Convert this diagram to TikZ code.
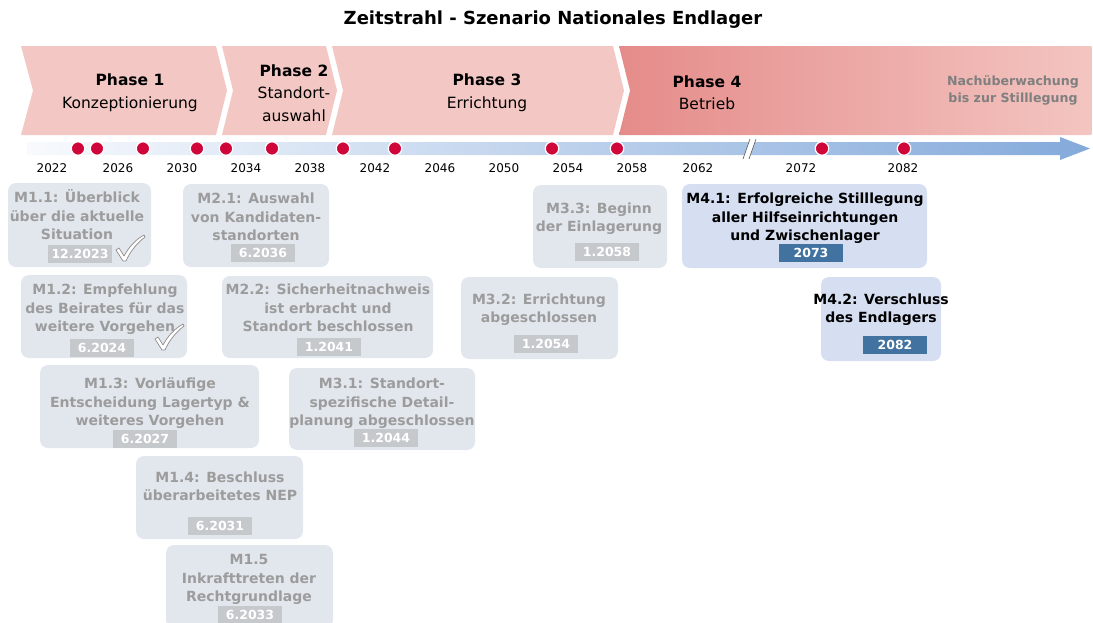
\documentclass[tikz,border=0pt]{standalone}
\usepackage{fontspec}
\setmainfont{DejaVu Sans}

\definecolor{phasefill}{HTML}{F3C8C4}
\definecolor{phasedark}{HTML}{E58C8A}
\definecolor{phaselight}{HTML}{F3C5C1}
\definecolor{barblue}{HTML}{84AADB}
\definecolor{barwhite}{HTML}{F8FAFD}
\definecolor{dotred}{HTML}{D0063A}
\definecolor{mbox}{HTML}{E2E7EE}
\definecolor{mtext}{HTML}{9C9C9C}
\definecolor{mbadge}{HTML}{C6C9CC}
\definecolor{abox}{HTML}{D6DEF1}
\definecolor{abadge}{HTML}{4172A0}
\definecolor{postgray}{HTML}{7F7F7F}
\definecolor{checkgray}{HTML}{8C8C8C}

\begin{document}
\begin{tikzpicture}[x=1pt,y=-1pt,
  titletext/.style={font=\fontsize{18}{22}\selectfont\bfseries, inner sep=0},
  phasetext/.style={align=center, font=\fontsize{15.5}{22.5}\selectfont, inner sep=0},
  posttext/.style={align=center, text=postgray, font=\fontsize{12.6}{17}\selectfont\bfseries, inner sep=0},
  yeartext/.style={font=\fontsize{12}{14}\selectfont, inner sep=0},
  dot/.style={circle, fill=dotred, draw=white, line width=1.2pt, minimum size=13.5pt, inner sep=0},
  gbox/.style={rectangle, rounded corners=8pt, fill=mbox, inner sep=0},
  gtext/.style={align=center, text=mtext, font=\fontsize{14}{18.5}\selectfont\bfseries, inner sep=0, yshift=-1.5pt},
  gbadge/.style={rectangle, fill=mbadge, text=white, font=\fontsize{12.5}{14}\selectfont\bfseries, minimum width=64pt, minimum height=18pt, inner sep=0},
  abox/.style={gbox, fill=abox},
  atext/.style={gtext, text=black},
  abadge/.style={gbadge, fill=abadge},
  donemark/.pic={
    \filldraw[fill=white, draw=checkgray, line width=0.7pt, line join=round]
      (-8,-11) -- (-5,-13) -- (0,-5)
      .. controls (5,-14) and (11,-21) .. (20,-26) -- (21,-24)
      .. controls (12,-17) and (6,-9) .. (2,0) -- (-1,0) -- cycle;
  }
]
\useasboundingbox (0,0) rectangle (1093,622);

% title
\node[titletext] (title) at (553,20) {Zeitstrahl - Szenario Nationales Endlager};

% phase chevrons
\fill[phasefill] (21,46) -- (216,46) -- (227,90.5) -- (216,135) -- (21,135) -- (33,90.5) -- cycle;
\fill[phasefill] (222,46) -- (326,46) -- (337,90.5) -- (326,135) -- (222,135) -- (233,90.5) -- cycle;
\fill[phasefill] (332,46) -- (613,46) -- (624,90.5) -- (613,135) -- (332,135) -- (343,90.5) -- cycle;
\shade[left color=phasedark, right color=phaselight]
  (619,46) -- (1088,46) .. controls (1092,46) .. (1092,50) -- (1092,131)
  .. controls (1092,135) .. (1088,135) -- (619,135) -- (630,90.5) -- cycle;

\node[phasetext] (p1) at (130,92.5) {\textbf{Phase 1}\\Konzeptionierung};
\node[phasetext] (p2) at (294,93) {\textbf{Phase 2}\\Standort-\\auswahl};
\node[phasetext] (p3) at (487,92.5) {\textbf{Phase 3}\\Errichtung};
\node[phasetext] (p4) at (707,92.5) {\textbf{Phase 4}\\Betrieb};
\node[posttext] (post) at (1013,90.5) {Nachüberwachung\\bis zur Stilllegung};

% time axis
\shade[left color=barwhite, right color=barblue]
  (27,142) -- (1060,142) -- (1060,137) -- (1090,148.5) -- (1060,160)
  -- (1060,155) -- (27,155) -- cycle;

% axis break
\fill[white] (743,159) -- (750,139) -- (756,139) -- (749,159) -- cycle;
\draw[draw=gray!70!black, line width=0.6pt] (743,159) -- (750,139) (749,159) -- (756,139);

% milestone dots
\foreach \x [count=\i] in {78,97,143,197,226,272,343,395,552,617,822,904}
  \node[dot] (d\i) at (\x,148.5) {};

% year labels
\foreach \yr/\x in {2022/52,2026/118,2030/182,2034/246,2038/310,2042/375,2046/440,2050/504,2054/568,2058/632,2062/698,2072/801,2082/903}
  \node[yeartext] (y\yr) at (\x,168) {\yr};

% milestones, phase 1
\node[gbox, minimum width=143pt, minimum height=84pt] (m11) at (79.5,225) {};
\node[gtext] (m11t) at (77,216) {\strut M1.1: Überblick\\über die aktuelle\\Situation\strut};
\node[gbadge] (m11b) at (80,254) {12.2023};
\pic at (124,261) {donemark};

\node[gbox, minimum width=166pt, minimum height=83pt] (m12) at (104,316.5) {};
\node[gtext] (m12t) at (105,308) {\strut M1.2: Empfehlung\\des Beirates für das\\weitere Vorgehen\strut};
\node[gbadge] (m12b) at (102,348) {6.2024};
\pic at (163,350) {donemark};

\node[gbox, minimum width=219pt, minimum height=83pt] (m13) at (149.5,406.5) {};
\node[gtext] (m13t) at (150,402) {\strut M1.3: Vorläufige\\Entscheidung Lagertyp \&\\weiteres Vorgehen\strut};
\node[gbadge] (m13b) at (145,439) {6.2027};

\node[gbox, minimum width=167pt, minimum height=83pt] (m14) at (219.5,497.5) {};
\node[gtext] (m14t) at (220,486.5) {\strut M1.4: Beschluss\\überarbeitetes NEP\strut};
\node[gbadge] (m14b) at (220,526) {6.2031};

\node[gbox, minimum width=167pt, minimum height=83pt] (m15) at (249.5,586.5) {};
\node[gtext] (m15t) at (249,578) {\strut M1.5\\Inkrafttreten der\\Rechtgrundlage\strut};
\node[gbadge] (m15b) at (250,615) {6.2033};

% milestones, phase 2
\node[gbox, minimum width=146pt, minimum height=83pt] (m21) at (256,225.5) {};
\node[gtext] (m21t) at (256,217) {\strut M2.1: Auswahl\\von Kandidaten-\\standorten\strut};
\node[gbadge] (m21b) at (263,253) {6.2036};

\node[gbox, minimum width=211pt, minimum height=82pt] (m22) at (327.5,317) {};
\node[gtext] (m22t) at (328,308) {\strut M2.2: Sicherheitnachweis\\ist erbracht und\\Standort beschlossen\strut};
\node[gbadge] (m22b) at (329,347) {1.2041};

% milestones, phase 3
\node[gbox, minimum width=186pt, minimum height=82pt] (m31) at (382,409) {};
\node[gtext] (m31t) at (382,402) {\strut M3.1: Standort-\\spezifische Detail-\\planung abgeschlossen\strut};
\node[gbadge] (m31b) at (386,438) {1.2044};

\node[gbox, minimum width=157pt, minimum height=82pt] (m32) at (539.5,318) {};
\node[gtext] (m32t) at (539,308.5) {\strut M3.2: Errichtung\\abgeschlossen\strut};
\node[gbadge] (m32b) at (546,344) {1.2054};

\node[gbox, minimum width=134pt, minimum height=83pt] (m33) at (600,226.5) {};
\node[gtext] (m33t) at (599,217.5) {\strut M3.3: Beginn\\der Einlagerung\strut};
\node[gbadge] (m33b) at (607,252) {1.2058};

% milestones, phase 4
\node[abox, minimum width=245pt, minimum height=84pt] (m41) at (804.5,226) {};
\node[atext] (m41t) at (805,217) {\strut M4.1: Erfolgreiche Stilllegung\\aller Hilfseinrichtungen\\und Zwischenlager\strut};
\node[abadge] (m41b) at (811,253) {2073};

\node[abox, minimum width=120pt, minimum height=84pt] (m42) at (881,319) {};
\node[atext] (m42t) at (881,308.5) {\strut M4.2: Verschluss\\des Endlagers\strut};
\node[abadge] (m42b) at (895,345) {2082};

\end{tikzpicture}
\end{document}
